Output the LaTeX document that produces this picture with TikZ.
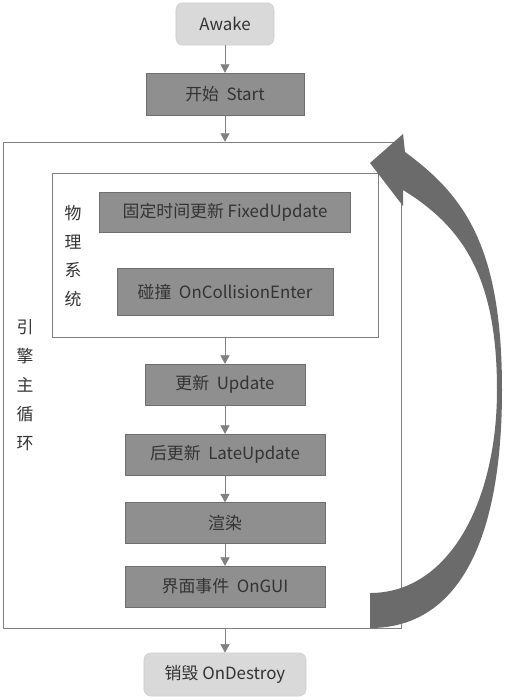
\documentclass[tikz,border=0pt]{standalone}
\usepackage{fontspec}
\setmainfont{Noto Sans CJK SC}
\usetikzlibrary{arrows.meta,positioning,fit}

\definecolor{txtgray}{HTML}{333333}
\definecolor{boxgray}{HTML}{8F8F8F}
\definecolor{edgegray}{HTML}{6F6F6F}
\definecolor{softgray}{HTML}{D9D9D9}
\definecolor{softedge}{HTML}{CDCDCD}
\definecolor{linegray}{HTML}{808080}
\definecolor{loopgray}{HTML}{6B6B6B}

\begin{document}
\begin{tikzpicture}[x=0.025cm, y=-0.025cm,
        every node/.style={font=\fontsize{12}{14}\selectfont, text=txtgray},
        stage/.style={rectangle, draw=edgegray, fill=boxgray, minimum height=1.02cm},
        endpoint/.style={rectangle, rounded corners=5pt, draw=softedge, fill=softgray, minimum height=1.06cm},
        frame/.style={rectangle, draw=linegray, inner sep=0pt},
        flow/.style={draw=linegray, -{Triangle[length=6pt,width=6.5pt]}},
        vlabel/.style={align=center, font=\fontsize{12}{20.5}\selectfont}
    ]
    \useasboundingbox (0,0) rectangle (506,700);

    \node[endpoint, minimum width=2.45cm] (awake) at (225,24) {Awake};
    \node[stage, minimum width=3.95cm, minimum height=1.05cm] (start) at (225,94) {开始~~Start};

    % engine loop and physics frames
    \coordinate (engTL) at (3,142);
    \coordinate (engBR) at (401,628);
    \node[frame, fit=(engTL)(engBR)] (engine) {};
    \coordinate (phyTL) at (52,173);
    \coordinate (phyBR) at (378,337);
    \node[frame, fit=(phyTL)(phyBR)] (physics) {};

    \node[vlabel] (phylabel) at (73,256) {物\\理\\系\\统};
    \node[vlabel] (englabel) at (25,385) {引\\擎\\主\\循\\环};

    \node[stage, minimum width=6.28cm, minimum height=1cm] (fixed) at (225,212) {固定时间更新 FixedUpdate};
    \node[stage, minimum width=5.4cm, minimum height=1.17cm] (collide) at (225,291.5) {碰撞~~OnCollisionEnter};

    \node[stage, minimum width=4cm] (update) at (225,384.5) {更新~~Update};
    \node[stage, minimum width=5cm] (late) at (225,454.5) {后更新~~LateUpdate};
    \node[stage, minimum width=5cm] (render) at (225,523) {渲染};
    \node[stage, minimum width=5cm] (gui) at (225,586.5) {界面事件~~OnGUI};

    \node[endpoint, minimum width=4.05cm, minimum height=1.08cm] (destroy) at (225,674.5) {销毁 OnDestroy};

    \draw[flow] (awake) -- (start);
    \draw[flow] (start) -- (start |- engine.north);
    \draw[flow] (update |- physics.south) -- (update);
    \draw[flow] (update) -- (late);
    \draw[flow] (late) -- (render);
    \draw[flow] (render) -- (gui);
    \draw[flow] (destroy |- engine.south) -- (destroy);

    % big loop-back arrow
    \fill[loopgray] (370,593) -- (370,628)
        .. controls (456,628) and (502,545) .. (502,390)
        .. controls (502,247) and (465,196) .. (405,152)
        -- (403,134) -- (370,163) -- (403,206) -- (403,190)
        .. controls (465,228) and (497,280) .. (497,390)
        .. controls (497,500) and (450,593) .. (370,593) -- cycle;
\end{tikzpicture}
\end{document}
